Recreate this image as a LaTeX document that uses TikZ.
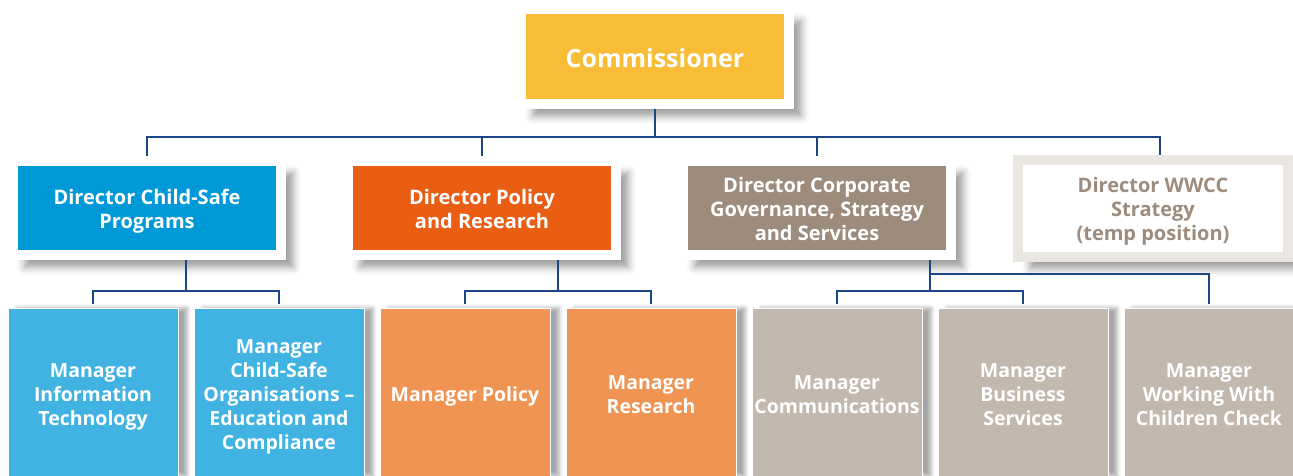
\documentclass[tikz,border=0pt]{standalone}
\usepackage{fontspec}
\setmainfont{Open Sans}
\usetikzlibrary{shadows.blur}

\definecolor{amarillo}{HTML}{F9BC37}
\definecolor{azulfuerte}{HTML}{0099D8}
\definecolor{naranjafuerte}{HTML}{E95E12}
\definecolor{marron}{HTML}{9D8B7C}
\definecolor{grisclaro}{HTML}{EAE6E2}
\definecolor{azulsuave}{HTML}{41B3E3}
\definecolor{naranjasuave}{HTML}{F09453}
\definecolor{grissuave}{HTML}{C2B8AE}
\definecolor{linea}{HTML}{1C4587}

% Puntal para la primera línea de cada caja.
\newcommand{\primera}{\rule{0pt}{\altoprimera}}

\begin{document}
\begin{tikzpicture}[x=1pt,y=1pt,
    conector/.style={draw=linea, line width=1.4pt},
    marco/.style={draw=white, line width=10pt, outer sep=5pt, inner sep=0pt,
        minimum width=268pt, minimum height=94pt, text=white, align=center,
        font=\fontsize{20}{24}\selectfont\bfseries,
        execute at begin node={\def\altoprimera{23pt}},
        execute at end node={\rule[-5.5pt]{0pt}{5.5pt}},
        blur shadow={shadow xshift=12pt, shadow yshift=-12pt,
            shadow blur radius=8pt, shadow opacity=40}},
    gerente/.style={draw=white, line width=1pt, outer sep=4pt, inner sep=0pt,
        minimum width=170pt, minimum height=168pt, text=white, align=center,
        font=\fontsize{19.5}{24}\selectfont\bfseries,
        execute at begin node={\def\altoprimera{24pt}},
        execute at end node={\rule[-5.5pt]{0pt}{5.5pt}},
        blur shadow={shadow xshift=9pt, shadow yshift=0pt,
            shadow blur radius=4pt, shadow opacity=35}}]
        % Fija el tamaño del dibujo.
        \useasboundingbox (0,0) rectangle (1293,475);

        % Dibuja la caja del comisionado.
        \node[marco, fill=amarillo, minimum height=95pt,
            font=\fontsize{25}{28}\selectfont\bfseries,
            execute at end node={}] (com) at (655,418.5) {\rule{0pt}{27pt}Commissioner};

        % Dibuja las cajas de los directores.
        \node[marco, fill=azulfuerte] (dcs) at (147,267) {\primera Director Child-Safe\\Programs};
        \node[marco, fill=naranjafuerte] (dpr) at (482,267) {\primera Director Policy\\and Research};
        \node[marco, fill=marron] (dcg) at (817,267) {\primera Director Corporate\\Governance, Strategy\\and Services};
        \node[marco, fill=white, draw=grisclaro, text=marron, minimum width=270pt,
            minimum height=97pt] (dww) at (1153,267) {\primera Director WWCC\\Strategy\\(temp position)};

        % Dibuja las cajas de los gerentes.
        \node[gerente, fill=azulsuave] (mit) at (93,83) {\primera Manager\\Information\\Technology};
        \node[gerente, fill=azulsuave] (mcs) at (279,83) {\primera Manager\\Child-Safe\\Organisations –\\Education and\\Compliance};
        \node[gerente, fill=naranjasuave] (mpo) at (465,83) {\primera Manager Policy};
        \node[gerente, fill=naranjasuave] (mre) at (651,83) {\primera Manager\\Research};
        \node[gerente, fill=grissuave] (mco) at (837,83) {\primera Manager\\Communications};
        \node[gerente, fill=grissuave] (mbs) at (1023,83) {\primera Manager\\Business\\Services};
        \node[gerente, fill=grissuave] (mwc) at (1209,83) {\primera Manager\\Working With\\Children Check};

        % Une el comisionado con los directores.
        \coordinate (bus) at (655,338);
        \foreach \d in {dcs,dpr,dcg}
            \draw[conector] (com.south) -- (bus) -| (\d.north);
        \draw[conector] (com.south) -- (bus) -| ([xshift=7pt]dww.north);

        % Une cada director con sus gerentes.
        \coordinate (bcs) at (186,184);
        \coordinate (bpr) at (558,184);
        \coordinate (bcg) at (930,184);
        \coordinate (bww) at (930,201);
        \foreach \m in {mit,mcs}
            \draw[conector] (dcs.south -| bcs) -- (bcs) -| (\m.north);
        \foreach \m in {mpo,mre}
            \draw[conector] (dpr.south -| bpr) -- (bpr) -| (\m.north);
        \foreach \m in {mco,mbs}
            \draw[conector] (dcg.south -| bcg) -- (bcg) -| (\m.north);
        \draw[conector] (dcg.south -| bww) -- (bww) -| (mwc.north);
    \end{tikzpicture}
\end{document}
